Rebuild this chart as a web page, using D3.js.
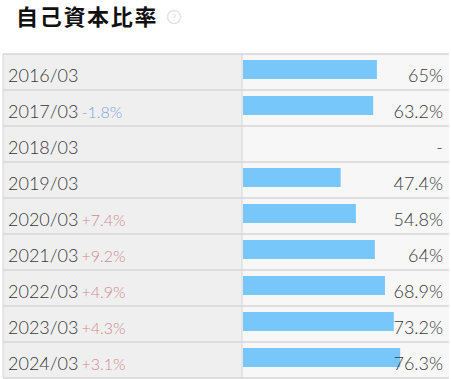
<!DOCTYPE html>
<html>
<head>
<meta charset="utf-8">
<script src="https://cdn.jsdelivr.net/npm/d3@7"></script>
<style>
  body { margin: 0; background: #fff; }
  svg { display: block; }
</style>
</head>
<body>
<svg width="451" height="379"></svg>
<script>
// data
var periods = ["2016/03", "2017/03", "2018/03", "2019/03", "2020/03", "2021/03", "2022/03", "2023/03", "2024/03"];
var ratios = [65, 63.2, null, 47.4, 54.8, 64, 68.9, 73.2, 76.3];
var ratioLabels = ["65%", "63.2%", "-", "47.4%", "54.8%", "64%", "68.9%", "73.2%", "76.3%"];
var changes = ["", "-1.8%", "", "", "+7.4%", "+9.2%", "+4.9%", "+4.3%", "+3.1%"];

var svg = d3.select("svg"),
    width = +svg.attr("width"),
    height = +svg.attr("height");

var font = "Lato, 'Noto Sans', sans-serif";

// title
svg.append("text")
    .attr("x", 16)
    .attr("y", 25)
    .style("font-family", "'Noto Sans CJK JP', sans-serif")
    .style("font-weight", 700)
    .style("font-size", "22px")
    .style("letter-spacing", "1.7px")
    .attr("fill", "#111")
    .text("自己資本比率");

// help icon
var help = svg.append("g").attr("transform", "translate(174,17)");
help.append("circle").attr("r", 6.5).attr("fill", "none").attr("stroke", "#e4e4e4").attr("stroke-width", 1.5);
help.append("text").attr("text-anchor", "middle").attr("y", 4)
    .style("font-family", font).style("font-size", "10px").attr("fill", "#e2e2e2").text("?");

// layout
var tableLeft = 3, tableRight = 449, tableTop = 54, splitX = 242;

var y = d3.scaleBand()
    .domain(periods)
    .range([tableTop, tableTop + 36 * periods.length]);

var x = d3.scaleLinear()
    .domain([0, 100])
    .range([splitX + 1, splitX + 1 + 206]);

var rows = svg.append("g")
    .selectAll("g")
    .data(periods)
    .enter()
    .append("g")
    .attr("transform", function (d) { return "translate(0," + y(d) + ")"; });

// cells
rows.append("rect")
    .attr("x", tableLeft).attr("width", splitX - tableLeft)
    .attr("height", y.bandwidth())
    .attr("fill", "#efefef");

rows.append("rect")
    .attr("x", splitX).attr("width", tableRight - splitX)
    .attr("height", y.bandwidth())
    .attr("fill", "#f7f7f7");

// bars
rows.filter(function (d, i) { return ratios[i] != null; })
    .append("rect")
    .attr("x", x(0))
    .attr("y", 6)
    .attr("height", 19)
    .attr("width", function (d) { return x(ratios[periods.indexOf(d)]) - x(0); })
    .attr("fill", "#77c7fb");

// period labels
var lab = rows.append("text")
    .attr("x", 8)
    .attr("y", 28)
    .style("font-family", font)
    .style("font-weight", 300)
    .style("font-size", "18px")
    .attr("fill", "#3a3a3a");
lab.append("tspan").text(function (d) { return d; });
lab.append("tspan")
    .attr("dx", 3)
    .style("font-size", "16px")
    .attr("fill", function (d, i) { return changes[i].charAt(0) == "-" ? "#7aa4e4" : "#d08a90"; })
    .text(function (d, i) { return changes[i]; });

// value labels
rows.append("text")
    .attr("x", 443)
    .attr("y", 28)
    .attr("text-anchor", "end")
    .style("font-family", font)
    .style("font-weight", 300)
    .style("font-size", "18px")
    .attr("fill", "#3a3a3a")
    .text(function (d, i) { return ratioLabels[i]; });

// grid lines
var lines = svg.append("g").attr("stroke", "#d6d6d6").attr("stroke-width", 1.5);
periods.concat(["end"]).forEach(function (d, i) {
    var yy = tableTop + i * 36;
    lines.append("line").attr("x1", tableLeft).attr("x2", tableRight).attr("y1", yy).attr("y2", yy);
});
lines.append("line").attr("x1", splitX).attr("x2", splitX).attr("y1", tableTop).attr("y2", tableTop + 36 * periods.length).attr("stroke-width", 1);
lines.append("line").attr("x1", tableLeft).attr("x2", tableLeft).attr("y1", tableTop).attr("y2", tableTop + 36 * periods.length).attr("stroke-width", 1);
</script>
</body>
</html>
